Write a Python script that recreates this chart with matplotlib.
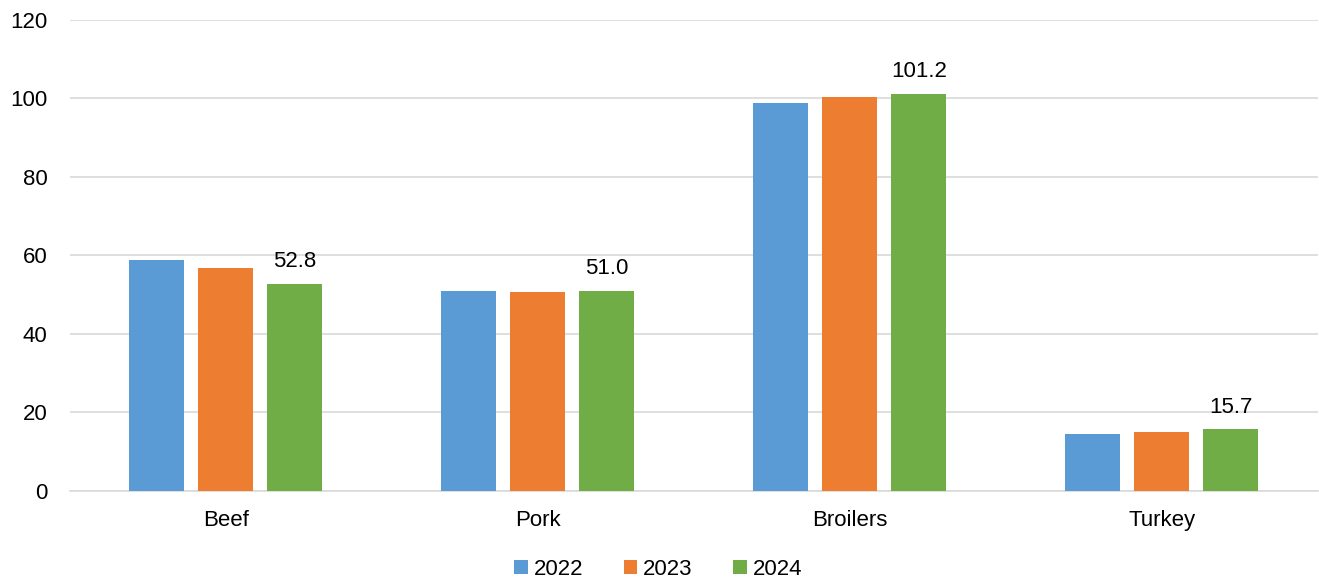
import matplotlib.pyplot as plt
import numpy as np

plt.rcParams['font.family'] = ['Liberation Sans', 'DejaVu Sans']

categories = ["Beef", "Pork", "Broilers", "Turkey"]
years = ["2022", "2023", "2024"]
v2022 = [58.9, 51.0, 98.8, 14.5]
v2023 = [56.8, 50.7, 100.4, 15.0]
v2024 = [52.8, 51.0, 101.2, 15.7]
colors = ["#5b9bd5", "#ed7d31", "#70ad47"]

fig = plt.figure(figsize=(13.19, 5.81), dpi=100)
ax = fig.add_axes([0.053, 0.155, 0.946, 0.811])

x = np.arange(len(categories))
w = 0.176
step = 0.221
series = [v2022, v2023, v2024]
for i, (vals, c, yr) in enumerate(zip(series, colors, years)):
    ax.bar(x + (i - 1) * step, vals, w, color=c, label=yr, zorder=3)

# data labels on the 2024 bars
for xi, v in zip(x, v2024):
    ax.text(xi + step, v + 3.0, f"{v:.1f}", ha="center", va="bottom", fontsize=16)

ax.set_xlim(-0.5, len(categories) - 0.5)
ax.set_ylim(0, 120)
ax.set_yticks(range(0, 121, 20))
ax.set_xticks(x)
ax.set_xticklabels(categories)
ax.tick_params(axis="both", length=0, labelsize=16, colors="#000000")
ax.tick_params(axis="y", pad=16)
ax.tick_params(axis="x", pad=14)
ax.grid(axis="y", color="#d9d9d9", linewidth=1.2, zorder=0)
for s in ["top", "right", "left"]:
    ax.spines[s].set_visible(False)
ax.spines["bottom"].set_color("#d9d9d9")
ax.spines["bottom"].set_linewidth(1.2)

handles, labels = ax.get_legend_handles_labels()
fig.legend(handles, labels, loc="center", bbox_to_anchor=(0.499, 0.02), ncol=3,
           frameon=False, fontsize=16, handlelength=0.6, handleheight=0.6,
           handletextpad=0.25, columnspacing=1.85, borderpad=0)

fig.savefig("out.png", dpi=100)
